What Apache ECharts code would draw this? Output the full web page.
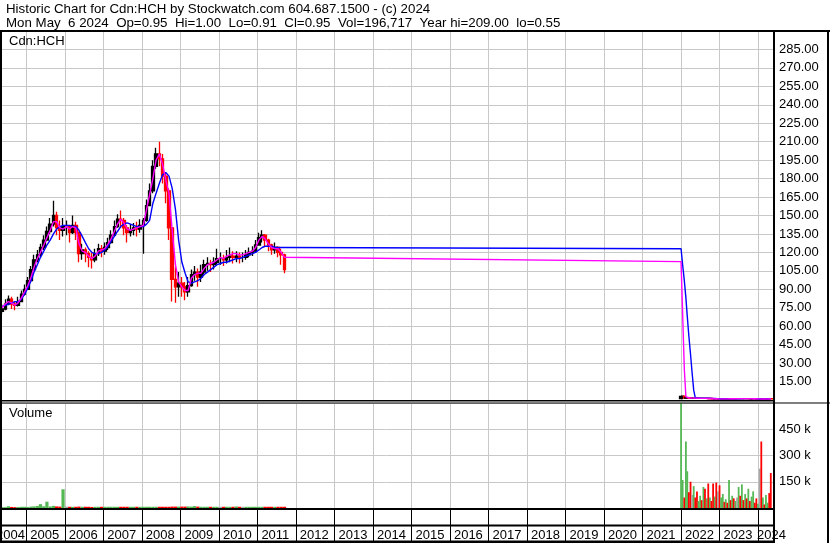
<!DOCTYPE html>
<html><head><meta charset="utf-8">
<script src="https://cdn.jsdelivr.net/npm/echarts@6/dist/echarts.min.js"></script>
<style>html,body{margin:0;padding:0;background:#fff}#c{width:830px;height:543px}</style>
</head><body><div id="c"></div>
<script>
// ================= DATA =================
// Segment 1: monthly bars, May 2004 .. Sep 2011
const seg1StartYear = 2004, seg1StartMonth = 5;
const seg1Open0 = 72;
const seg1Close = [
  74, 78, 82, 78, 77, 80, 86, 90,
  97, 106, 114, 118, 124, 130, 137, 143, 150, 140, 138, 141,
  141, 136, 142, 136, 119, 122, 119, 116, 114, 119, 123, 121,
  124, 128, 134, 141, 147, 146, 140, 136, 138, 140, 139, 142,
  146, 158, 170, 190, 200, 196, 182, 170, 140, 98, 92, 95,
  92, 88, 93, 102, 104, 100, 104, 110, 111, 110, 112, 115,
  115, 114, 116, 117, 116, 117, 116, 116, 118, 120, 121, 126,
  132, 134, 130, 126, 122, 124, 120, 118, 106
];
const seg1High = [
  78, 82, 85, 84, 80, 84, 89, 94,
  100, 109, 118, 122, 127, 134, 141, 148, 162, 153, 146, 148,
  146, 141, 150, 145, 137, 127, 124, 121, 120, 123, 127, 126,
  128, 132, 138, 146, 151, 154, 148, 142, 143, 144, 145, 147,
  148, 163, 176, 195, 205, 210, 200, 185, 172, 140, 108, 104,
  100, 96, 100, 106, 109, 107, 110, 114, 116, 114, 116, 123,
  120, 118, 122, 124, 121, 121, 120, 120, 122, 124, 125, 130,
  136, 138, 135, 131, 127, 128, 125, 123, 119
];
const seg1Low = [
  70, 73, 77, 74, 73, 76, 81, 85,
  90, 98, 105, 112, 116, 122, 129, 135, 141, 134, 130, 133,
  134, 128, 135, 130, 112, 114, 112, 108, 107, 112, 117, 116,
  118, 122, 127, 133, 140, 140, 134, 128, 133, 134, 133, 136,
  119, 145, 158, 168, 188, 190, 176, 160, 130, 80, 79, 84,
  84, 81, 84, 92, 97, 92, 96, 102, 105, 104, 106, 110,
  110, 109, 111, 112, 111, 112, 111, 112, 114, 116, 117, 120,
  126, 128, 125, 121, 118, 119, 116, 110, 103
];
const seg1VolK = [
  6, 5, 10, 6, 5, 6, 7, 7,
  6, 8, 9, 12, 22, 10, 36, 9, 12, 9, 8, 107,
  8, 7, 7, 7, 8, 7, 7, 7, 6, 7, 7, 7,
  7, 7, 7, 7, 7, 7, 7, 7, 7, 7, 7, 7,
  7, 7, 7, 7, 7, 7, 7, 7, 7, 8, 8, 8,
  8, 8, 9, 8, 11, 8, 7, 7, 7, 7, 7, 7,
  7, 7, 7, 7, 7, 9, 7, 7, 7, 7, 7, 7,
  7, 7, 7, 7, 7, 7, 7, 7, 7
];
const seg1MaFast = [
  75, 78, 80, 79, 77, 79, 83, 88,
  93, 100, 108, 115, 120, 126, 132, 138, 145, 145, 140, 139,
  141, 139, 141, 140, 127, 121, 120, 117, 115, 117, 121, 122,
  123, 127, 131, 137, 143, 147, 144, 139, 138, 139, 140, 141,
  142, 155, 167, 180, 195, 200, 192, 179, 168, 138, 110, 96,
  92, 89, 89, 99, 102, 103, 103, 107, 110, 111, 112, 114,
  116, 115, 117, 118, 119, 119, 118, 118, 119, 120, 121, 124,
  130, 133, 131, 127, 124, 123, 123, 120, 116
];
const seg1MaSlow = [
  76, 77, 78, 79, 80, 80, 82, 86,
  91, 97, 104, 110, 116, 121, 126, 130, 135, 139, 141, 142,
  142, 142, 141, 141, 138, 133, 128, 123, 120, 119, 119, 120,
  122, 125, 129, 133, 137, 141, 143, 144, 143, 142, 141, 141,
  141, 143, 146, 160, 168, 176, 183, 185, 182, 172, 155, 130,
  112, 103, 96, 95, 96, 97, 99, 102, 104, 106, 108, 110,
  111, 112, 112, 113, 114, 115, 115, 116, 117, 118, 119, 120,
  122, 124, 125, 125, 125, 124, 124, 124, 124
];

// Segment 2: half-monthly bars, Jan 2022 .. May 2024
const seg2StartYear = 2022;
const seg2Open0 = 1.20;
const seg2Close = [
  3.00, 3.10, 1.60, 1.80, 1.90, 1.70, 1.50, 1.50, 1.60, 1.45,
  1.30, 1.35, 1.40, 1.30, 1.40, 1.25, 1.30, 1.15, 1.20, 1.10,
  1.00, 1.05, 0.95, 0.95, 0.85, 0.90, 0.95, 0.90, 0.95, 0.90,
  1.05, 1.00, 1.05, 1.00, 1.05, 1.05, 1.15, 1.05, 1.15, 1.10,
  1.15, 1.05, 1.10, 1.00, 1.05, 1.10, 1.00, 0.90, 0.95, 0.95,
  0.70, 0.80, 0.75, 0.85, 1.05, 1.00, 0.95
];
const seg2High = [
  3.50, 3.40, 3.10, 1.90, 2.00, 1.95, 1.75, 1.60, 1.65, 1.60,
  1.50, 1.40, 1.45, 1.40, 1.45, 1.40, 1.35, 1.30, 1.25, 1.20,
  1.10, 1.10, 1.05, 1.00, 0.95, 0.95, 1.00, 0.95, 1.00, 0.95,
  1.10, 1.05, 1.10, 1.05, 1.10, 1.10, 1.20, 1.15, 1.20, 1.15,
  1.20, 1.15, 1.15, 1.10, 1.10, 1.15, 1.10, 1.00, 1.00, 1.00,
  0.95, 0.85, 0.80, 0.90, 1.10, 1.05, 1.00
];
const seg2Low = [
  1.00, 2.60, 1.40, 1.50, 1.70, 1.60, 1.40, 1.40, 1.45, 1.40,
  1.25, 1.25, 1.30, 1.25, 1.25, 1.20, 1.20, 1.10, 1.10, 1.05,
  0.95, 0.95, 0.90, 0.90, 0.80, 0.82, 0.88, 0.85, 0.88, 0.85,
  0.88, 0.95, 0.98, 0.95, 0.98, 1.00, 1.02, 1.00, 1.02, 1.05,
  1.05, 1.00, 1.02, 0.95, 0.98, 1.02, 0.95, 0.85, 0.88, 0.90,
  0.55, 0.68, 0.70, 0.72, 0.82, 0.95, 0.91
];
const seg2VolK = [
  700, 160, 60, 380, 210, 90, 150, 75, 125, 60,
  95, 40, 70, 45, 120, 110, 55, 140, 60, 40,
  140, 65, 145, 95, 130, 60, 80, 35, 50, 30,
  160, 45, 70, 55, 40, 60, 120, 70, 135, 45,
  80, 55, 110, 40, 65, 95, 30, 55, 25, 225,
  380, 60, 20, 75, 30, 85, 200
];
const seg2MaFast = [
  112.5, 70, 25, 2.6, 1.9, 1.8, 1.7, 1.6, 1.55, 1.5,
  1.45, 1.4, 1.38, 1.36, 1.36, 1.33, 1.3, 1.25, 1.22, 1.16,
  1.1, 1.06, 1.0, 0.97, 0.92, 0.9, 0.9, 0.9, 0.92, 0.92,
  0.96, 0.99, 1.02, 1.02, 1.03, 1.04, 1.08, 1.1, 1.12, 1.12,
  1.13, 1.12, 1.1, 1.08, 1.06, 1.06, 1.05, 1.0, 0.96, 0.94,
  0.86, 0.81, 0.78, 0.8, 0.86, 0.92, 0.96
];
const seg2MaSlow = [
  123, 110, 97, 83, 68, 52, 37, 22, 8, 1.8,
  1.7, 1.6, 1.55, 1.5, 1.45, 1.42, 1.4, 1.37, 1.33, 1.3,
  1.25, 1.2, 1.15, 1.1, 1.05, 1.0, 0.97, 0.95, 0.93, 0.92,
  0.93, 0.95, 0.97, 0.99, 1.0, 1.02, 1.04, 1.06, 1.08, 1.1,
  1.1, 1.1, 1.1, 1.1, 1.09, 1.08, 1.07, 1.05, 1.03, 1.01,
  0.97, 0.93, 0.9, 0.88, 0.88, 0.89, 0.9
];

const titleLine1 = 'Historic Chart for Cdn:HCH by Stockwatch.com 604.687.1500 - (c) 2024';
const titleLine2 = 'Mon May  6 2024  Op=0.95  Hi=1.00  Lo=0.91  Cl=0.95  Vol=196,717  Year hi=209.00  lo=0.55';
const symbolLabel = 'Cdn:HCH';
const volumeLabel = 'Volume';
const firstYearLabel = '2004';
const lastYearLabel = '2024';

// ================= BUILD =================
const seg1Dates = seg1Close.map((_, i) => Date.UTC(seg1StartYear, seg1StartMonth - 1 + i, 15));
const seg2Dates = seg2Close.map((_, i) => Date.UTC(seg2StartYear, Math.floor(i / 2), i % 2 ? 16 : 1));
const SPLIT_T = Date.UTC(2015, 0, 1);

const candles = [], vols = [], maFast = [], maSlow = [];
function addSeg(dates, open0, close, high, low, volK, mf, ms) {
  let prev = open0;
  dates.forEach((t, i) => {
    const o = prev, c = close[i];
    candles.push([t, o, c, low[i], high[i]]);
    vols.push([t, volK[i] * 1000, c > o ? 1 : (c < o ? -1 : 0)]);
    maFast.push([t, mf[i]]);
    maSlow.push([t, ms[i]]);
    prev = c;
  });
}
addSeg(seg1Dates, seg1Open0, seg1Close, seg1High, seg1Low, seg1VolK, seg1MaFast, seg1MaSlow);
addSeg(seg2Dates, seg2Open0, seg2Close, seg2High, seg2Low, seg2VolK, seg2MaFast, seg2MaSlow);

const FONT = '"Liberation Sans", Arial, sans-serif';
const GRID = '#c8c8c8';
const GREEN = '#55b855', RED = '#ff0000', GRAY = '#a8a8a8';
const X_MIN = Date.UTC(2004, 3, 26), X_MAX = Date.UTC(2024, 4, 22);

const chart = echarts.init(document.getElementById('c'), null, {renderer: 'canvas'});

function renderVol(params, api) {
  const t = api.value(0), v = api.value(1), d = api.value(2);
  const p0 = api.coord([t, 0]), p1 = api.coord([t, v]);
  const w = t < SPLIT_T ? 3.2 : 1.8;
  const rect = echarts.graphic.clipRectByRect(
    {x: p0[0] - w / 2, y: p1[1], width: w, height: p0[1] - p1[1]},
    {x: params.coordSys.x, y: params.coordSys.y, width: params.coordSys.width, height: params.coordSys.height});
  if (!rect) return;
  return {type: 'rect', shape: rect, style: {fill: d > 0 ? GREEN : (d < 0 ? RED : GRAY)}};
}

const bar = (x, y, w, h) => ({type: 'rect', shape: {x, y, width: w, height: h}, style: {fill: '#000'}, z: 100});
const txt = (text, x, y, size, align) => ({type: 'text', x, y, z: 100, style: {text, fill: '#000', font: size + 'px ' + FONT, align: align || 'left', verticalAlign: 'top'}});

chart.setOption({
  animation: false,
  useUTC: true,
  textStyle: {fontFamily: FONT},
  grid: [
    {left: 0, top: 31, width: 773, height: 369},
    {left: 0, top: 403, width: 773, height: 105}
  ],
  xAxis: [
    {type: 'time', gridIndex: 0, min: X_MIN, max: X_MAX, splitNumber: 20,
     axisLine: {show: false}, axisTick: {show: false}, axisLabel: {show: false},
     splitLine: {show: true, lineStyle: {color: GRID, width: 1}}},
    {type: 'time', gridIndex: 1, min: X_MIN, max: X_MAX, splitNumber: 20,
     axisLine: {show: false},
     axisTick: {show: true, length: 34, lineStyle: {color: '#000', width: 1}},
     axisLabel: {show: true, color: '#000', fontSize: 13, fontFamily: FONT, align: 'left',
                 padding: [0, 0, 0, 4], margin: 21,
                 formatter: v => { const y = String(new Date(v).getUTCFullYear()); return y === lastYearLabel ? '' : y; }},
     splitLine: {show: true, lineStyle: {color: GRID, width: 1}}}
  ],
  yAxis: [
    {type: 'value', gridIndex: 0, position: 'right', min: 0, max: 300, interval: 15,
     axisLine: {show: false}, axisTick: {show: false},
     axisLabel: {color: '#000', fontSize: 13, fontFamily: FONT, margin: 6,
                 formatter: v => (v <= 0 || v >= 300) ? '' : v.toFixed(2)},
     splitLine: {lineStyle: {color: GRID, width: 1}}},
    {type: 'value', gridIndex: 1, position: 'right', min: 0, max: 600000, interval: 150000,
     axisLine: {show: false}, axisTick: {show: false},
     axisLabel: {color: '#000', fontSize: 13, fontFamily: FONT, margin: 6,
                 formatter: v => (v <= 0 || v >= 600000) ? '' : (v / 1000) + ' k'},
     splitLine: {lineStyle: {color: GRID, width: 1}}}
  ],
  series: [
    {type: 'candlestick', xAxisIndex: 0, yAxisIndex: 0, data: candles, barWidth: 3,
     itemStyle: {color: '#000', color0: RED, borderColor: '#000', borderColor0: RED, borderWidth: 1.3}},
    {type: 'line', xAxisIndex: 0, yAxisIndex: 0, data: maSlow, showSymbol: false,
     lineStyle: {color: '#0000ff', width: 1.4}},
    {type: 'line', xAxisIndex: 0, yAxisIndex: 0, data: maFast, showSymbol: false,
     lineStyle: {color: '#ff00ff', width: 1.4}},
    {type: 'custom', xAxisIndex: 1, yAxisIndex: 1, data: vols, renderItem: renderVol}
  ],
  graphic: [
    txt(titleLine1, 6, 3, 13.3),
    txt(titleLine2, 6, 17, 13.3),
    txt(symbolLabel, 9, 35, 13),
    txt(volumeLabel, 9, 407, 13),
    txt(firstYearLabel, 25, 529, 13, 'right'),
    txt(lastYearLabel, 757, 529, 13),
    bar(0, 30, 830, 2),
    bar(0, 30, 2, 513),
    bar(773, 30, 2, 513),
    bar(827, 30, 2, 513),
    bar(0, 400, 775, 1.5),
    bar(0, 402.5, 830, 1),
    bar(0, 508, 775, 2),
    bar(0, 524.5, 775, 2),
    bar(0, 540.5, 775, 2.5)
  ]
});
</script>
</body></html>
